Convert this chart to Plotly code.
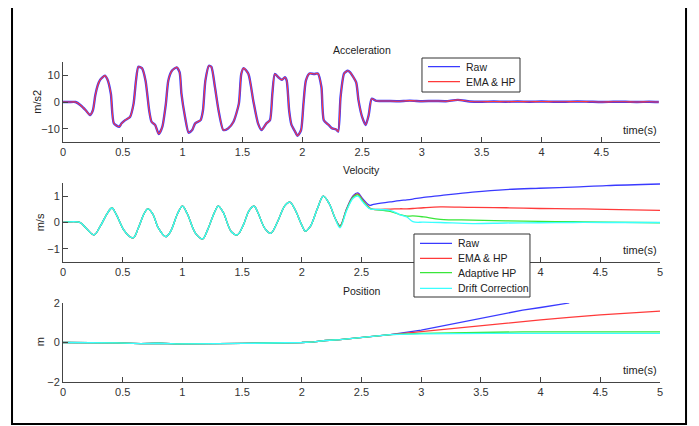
import plotly.graph_objects as go

# ---------------- data ----------------
# Acceleration (m/s2)
t_acc = [0, 0.05, 0.105, 0.147, 0.19, 0.225, 0.25, 0.27, 0.29, 0.31, 0.35, 0.37, 0.40, 0.425,
         0.47, 0.49, 0.52, 0.56, 0.59, 0.61, 0.63, 0.66, 0.69, 0.72, 0.74, 0.77, 0.80, 0.83,
         0.86, 0.88, 0.91, 0.95, 0.975, 0.99, 1.02, 1.05, 1.08, 1.105, 1.15, 1.17, 1.19, 1.22,
         1.24, 1.27, 1.30, 1.34, 1.38, 1.425, 1.47, 1.49, 1.51, 1.55, 1.59, 1.63, 1.66, 1.70,
         1.73, 1.75, 1.77, 1.80, 1.83, 1.855, 1.87, 1.89, 1.91, 1.94, 1.96, 1.99, 2.01, 2.03,
         2.06, 2.10, 2.13, 2.16, 2.18, 2.22, 2.25, 2.28, 2.30, 2.32, 2.35, 2.38, 2.40, 2.45,
         2.47, 2.50, 2.53, 2.555, 2.58, 2.62, 2.7, 2.8, 2.9, 3.0, 3.1, 3.2, 3.3, 3.4, 3.5,
         3.6, 3.7, 3.8, 3.9, 4.0, 4.1, 4.2, 4.3, 4.4, 4.5, 4.6, 4.7, 4.8, 4.9, 4.98]
acc = [0, 0, 0, -1.2, -3.1, -4.9, -3.1, 2.5, 6.2, 8.3, 9.9, 8.6, 3.1, -8.0,
       -9.3, -8.0, -6.8, -5.6, -0.6, 8.0, 13.2, 12.7, 8.0, -3.1, -7.4, -8.6, -12.0, -9.3,
       -0.6, 8.0, 11.7, 13.0, 11.1, 3.1, -5.6, -11.5, -10.5, -8.0, -6.8, -3.1, 8.0, 13.6,
       13.2, 5.6, -3.1, -10.5, -9.9, -7.4, -0.6, 10.5, 12.7, 10.5, 0.6, -8.0, -10.5, -8.0,
       -6.8, 3.1, 10.5, 9.3, 8.3, 9.3, 8.0, -3.1, -8.6, -11.1, -12.7, -10.5, -0.6, 8.0,
       10.7, 10.5, 10.7, 5.6, -6.8, -8.6, -9.9, -10.2, -11.1, 1.9, 10.7, 11.7, 11.1, 7.4,
       0.6, -5.6, -8.6, -4.9, 1.2, 0.4, 0.4, 0.3, 0.5, 0.3, 0.4, 0.3, 0.8, 0.2, 0.1,
       0.2, 0.1, 0.2, 0.1, 0.2, 0.1, 0.1, 0.2, 0.1, 0.0, 0.1, 0.1, 0.0, 0.1, 0.0]

# Velocity (m/s)
t_vel = [0, 0.14, 0.20, 0.26, 0.31, 0.37, 0.41, 0.45, 0.51, 0.56, 0.59, 0.63, 0.68, 0.71, 0.75,
         0.80, 0.86, 0.90, 0.96, 1.00, 1.04, 1.11, 1.17, 1.21, 1.27, 1.30, 1.34, 1.41, 1.46,
         1.51, 1.56, 1.60, 1.63, 1.69, 1.74, 1.79, 1.86, 1.90, 1.94, 2.00, 2.03, 2.07, 2.13,
         2.18, 2.23, 2.28,
         2.32, 2.375, 2.43, 2.47, 2.51, 2.57, 2.60, 2.74, 2.82, 2.88, 2.93, 3.02, 3.16, 3.43,
         3.71, 3.99, 4.27, 4.55, 5.0]
v_common = [0, 0, -0.25, -0.47, -0.16, 0.34, 0.55, 0.27, -0.29, -0.54, -0.58, -0.22, 0.34, 0.52, 0.34,
            -0.22, -0.54, -0.35, 0.34, 0.62, 0.34, -0.41, -0.62, -0.29, 0.40, 0.62, 0.40, -0.35, -0.47,
            -0.10, 0.46, 0.62, 0.40, -0.22, -0.41, -0.04, 0.65, 0.77, 0.52, -0.10, -0.33, -0.16, 0.52,
            1.00, 0.71, 0.15]
v_raw_tail = [-0.12, 0.52, 1.02, 1.12, 0.90, 0.65, 0.69, 0.78, 0.83, 0.86, 0.89, 0.95, 1.02, 1.15,
              1.25, 1.30, 1.34, 1.40, 1.46]
v_ema_tail = [-0.14, 0.50, 0.98, 1.08, 0.85, 0.55, 0.50, 0.51, 0.52, 0.52, 0.53, 0.56, 0.59, 0.57,
              0.56, 0.53, 0.52, 0.50, 0.46]
v_ahp_tail = [-0.15, 0.48, 0.96, 1.05, 0.82, 0.53, 0.50, 0.42, 0.30, 0.24, 0.25, 0.21, 0.12, 0.09,
              0.06, 0.04, 0.03, 0.01, -0.01]
v_dc_tail = [-0.20, 0.45, 0.92, 1.00, 0.78, 0.52, 0.50, 0.46, 0.30, 0.21, 0.03, 0.01, 0.0, -0.04,
             -0.02, -0.01, 0.0, 0.0, 0.0]

# Position (m)
t_pos = [0, 0.25, 0.45, 0.65, 0.80, 0.95, 1.10, 1.30, 1.50, 1.70, 1.90, 2.00, 2.10, 2.20, 2.32,
         2.50, 2.74,
         3.00, 3.29, 3.57, 3.85, 4.00, 4.24, 4.50, 5.00]
p_common = [0, 0, -0.02, -0.06, -0.04, -0.07, -0.05, -0.06, -0.05, -0.03, -0.03, 0.0, 0.03, 0.10,
            0.14, 0.25, 0.40]
p_raw_tail = [0.62, 0.96, 1.30, 1.64, 1.77, 2.00]
p_ema_tail = [0.54, 0.72, 0.90, 1.06, 1.14, 1.27, 1.40, 1.59]
p_ahp_tail = [0.46, 0.50, 0.53, 0.54, 0.54, 0.54, 0.54, 0.54]
p_dc_tail = [0.44, 0.46, 0.46, 0.46, 0.46, 0.46, 0.46, 0.46]

names = ["Raw", "EMA & HP", "Adaptive HP", "Drift Correction"]
colors = ["#3a3aff", "#ff3a3a", "#3ae63a", "#3affff"]

x_ticks_full = [0, 0.5, 1, 1.5, 2, 2.5, 3, 3.5, 4, 4.5, 5]
x_ticks_mid = [0, 0.5, 1, 1.5, 2, 2.5, 4, 4.5, 5]   # 3 and 3.5 sit under the legend box
x_ticks_top = [0, 0.5, 1, 1.5, 2, 2.5, 3, 3.5, 4, 4.5]

# ---------------- figure ----------------
fig = go.Figure()
FONT = "Liberation Sans, Arial, sans-serif"
LW = 1.3

# Acceleration
fig.add_trace(go.Scatter(x=t_acc, y=acc, mode="lines", name=names[0], showlegend=False,
                         line=dict(color=colors[0], width=2.4, shape="spline", smoothing=0.6),
                         xaxis="x", yaxis="y"))
fig.add_trace(go.Scatter(x=t_acc, y=acc, mode="lines", name=names[1], showlegend=False,
                         line=dict(color=colors[1], width=1.1, shape="spline", smoothing=0.6),
                         xaxis="x", yaxis="y"))

# Velocity
v_series = [v_common + v_raw_tail, v_common + v_ema_tail, v_common + v_ahp_tail, v_common + v_dc_tail]
for i in range(4):
    fig.add_trace(go.Scatter(x=t_vel, y=v_series[i], mode="lines", name=names[i], showlegend=False,
                             line=dict(color=colors[i], width=LW, shape="spline", smoothing=1.0),
                             xaxis="x2", yaxis="y2"))

# Position
p_series = [p_common + p_raw_tail, p_common + p_ema_tail, p_common + p_ahp_tail, p_common + p_dc_tail]
for i in range(4):
    n = len(p_series[i])
    fig.add_trace(go.Scatter(x=t_pos[:n], y=p_series[i], mode="lines", name=names[i],
                             line=dict(color=colors[i], width=LW), xaxis="x3", yaxis="y3",
                             showlegend=False))

axis_common = dict(showline=True, linecolor="#444", linewidth=1, ticks="inside", ticklen=5,
                   tickcolor="#444", showgrid=False, zeroline=False,
                   tickfont=dict(family=FONT, size=11, color="#333"))

fig.update_layout(
    width=691, height=418,
    margin=dict(l=55, r=39, t=54, b=44),
    paper_bgcolor="white", plot_bgcolor="white",
    font=dict(family=FONT, size=11, color="#222"),
    xaxis=dict(domain=[0, 1], range=[0, 4.99], tickvals=x_ticks_top, anchor="y", **axis_common),
    yaxis=dict(domain=[0.75, 1.0], range=[-15, 15], tickvals=[-10, 0, 10], anchor="x", **axis_common),
    xaxis2=dict(domain=[0, 1], range=[0, 5], tickvals=x_ticks_mid, anchor="y2", **axis_common),
    yaxis2=dict(domain=[0.375, 0.622], range=[-1.5, 1.5], tickvals=[-1, 0, 1], anchor="x2", **axis_common),
    xaxis3=dict(domain=[0, 1], range=[0, 5], tickvals=x_ticks_full, anchor="y3", **axis_common),
    yaxis3=dict(domain=[0, 0.247], range=[-2, 2], tickvals=[-2, 0, 2], anchor="x3", **axis_common),
    showlegend=False,
)

ann = []
shapes = []
for txt, y in [("Acceleration", 1.0375), ("Velocity", 0.6625), ("Position", 0.284)]:
    ann.append(dict(text=txt, x=0.5, y=y, xref="paper", yref="paper", showarrow=False,
                    font=dict(family=FONT, size=10.5, color="#222"), xanchor="center", yanchor="middle"))
for y in [0.7875, 0.4125, 0.0375]:
    ann.append(dict(text="time(s)", x=0.9665, y=y, xref="paper", yref="paper", showarrow=False,
                    font=dict(family=FONT, size=11, color="#222"), xanchor="center", yanchor="middle"))
for txt, x, y in [("m/s2", -0.0436, 0.876), ("m/s", -0.038, 0.5), ("m", -0.038, 0.125)]:
    ann.append(dict(text=txt, x=x, y=y, xref="paper", yref="paper", showarrow=False, textangle=-90,
                    font=dict(family=FONT, size=11, color="#222"), xanchor="center", yanchor="middle"))

# legend boxes (MATLAB style, compact)
def add_legend(box, line_x, text_x, ys, idx):
    shapes.append(dict(type="rect", xref="paper", yref="paper", x0=box[0], x1=box[1], y0=box[2], y1=box[3],
                       line=dict(color="#333", width=1), fillcolor="white", layer="above"))
    for y, i in zip(ys, idx):
        shapes.append(dict(type="line", xref="paper", yref="paper", x0=line_x[0], x1=line_x[1], y0=y, y1=y,
                           line=dict(color=colors[i], width=1.3), layer="above"))
        ann.append(dict(text=names[i], x=text_x, y=y, xref="paper", yref="paper", showarrow=False,
                        font=dict(family=FONT, size=10.5, color="#222"), xanchor="left", yanchor="middle"))

add_legend((0.6013, 0.7655, 0.90625, 1.0125), (0.6114, 0.665), 0.6717, [0.9853, 0.9384], [0, 1])
add_legend((0.5879, 0.7822, 0.2656, 0.4625), (0.598, 0.6516), 0.6578,
           [0.4334, 0.3866, 0.3416, 0.2928], [0, 1, 2, 3])

shapes.append(dict(type="rect", xref="paper", yref="paper", x0=-0.0854, x1=1.0436, y0=-0.131, y1=1.184,
                   line=dict(color="black", width=2), fillcolor="rgba(0,0,0,0)", layer="above"))
fig.update_layout(annotations=ann, shapes=shapes)

fig.write_html("out.html")
